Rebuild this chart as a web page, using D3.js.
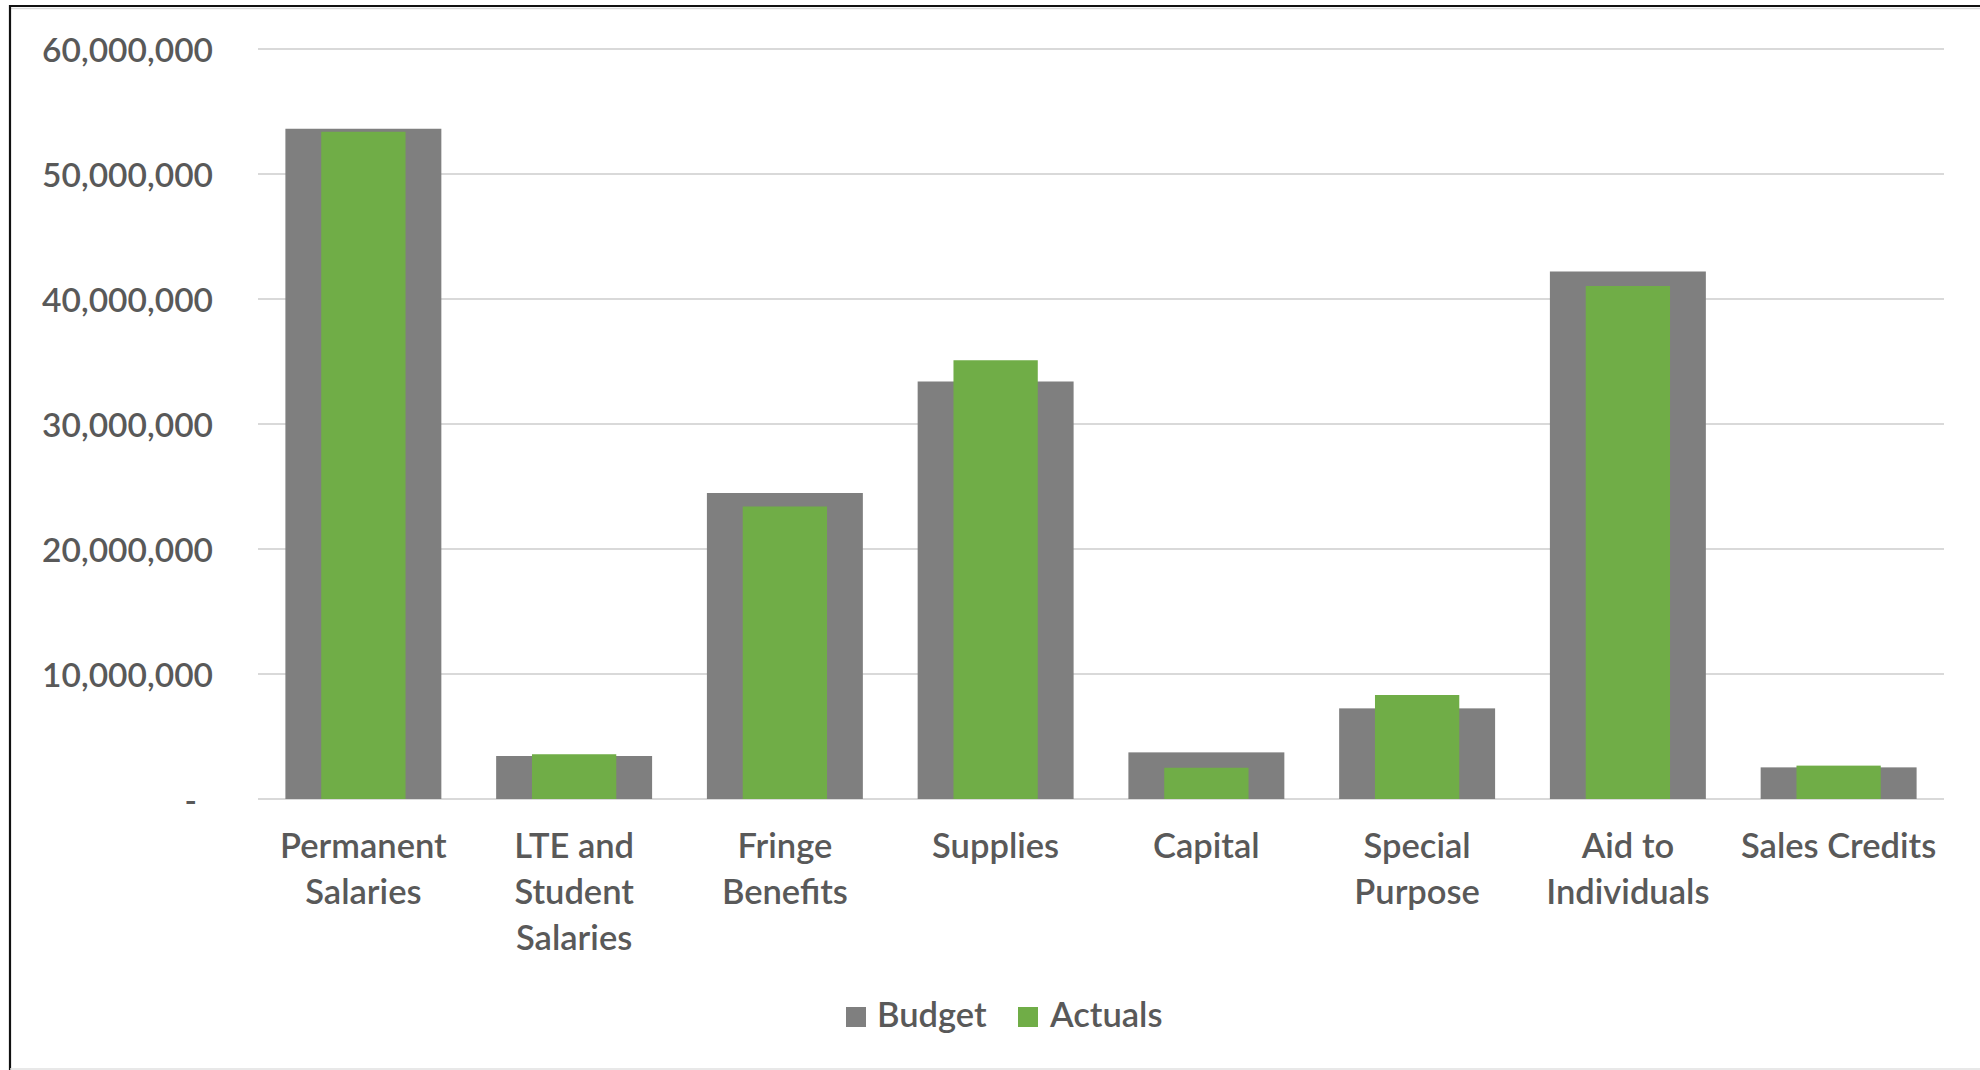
<!DOCTYPE html>
<html>
<head>
<meta charset="utf-8">
<script src="https://cdn.jsdelivr.net/npm/d3@7"></script>
<style>
  html, body { margin: 0; padding: 0; background: #fff; }
  svg { display: block; }
  text { font-family: Lato, "Open Sans", sans-serif; fill: #595959; font-weight: 600; }
</style>
</head>
<body>
<svg id="chart" width="1980" height="1070"></svg>
<script>
// Expense categories (label lines) and series values in dollars
const categories = [
  "Permanent Salaries",
  "LTE and Student Salaries",
  "Fringe Benefits",
  "Supplies",
  "Capital",
  "Special Purpose",
  "Aid to Individuals",
  "Sales Credits"
];
const categoryLines = [
  ["Permanent", "Salaries"],
  ["LTE and", "Student", "Salaries"],
  ["Fringe", "Benefits"],
  ["Supplies"],
  ["Capital"],
  ["Special", "Purpose"],
  ["Aid to", "Individuals"],
  ["Sales Credits"]
];
const budget  = [53620000, 3440000, 24480000, 33400000, 3730000, 7250000, 42200000, 2530000];
const actuals = [53380000, 3580000, 23400000, 35100000, 2500000, 8320000, 41040000, 2670000];
const yTicks  = [0, 10000000, 20000000, 30000000, 40000000, 50000000, 60000000];
const seriesNames = ["Budget", "Actuals"];

const W = 1980, H = 1070;
const plot = { left: 258, right: 1944, top: 49, bottom: 799 };
const colors = { Budget: "#7f7f7f", Actuals: "#70ad47" };
const tickFont = 33.5;
const labelFont = 34.5;

const svg = d3.select("#chart");

// Frame around the chart
svg.append("line").attr("x1", 10).attr("x2", W).attr("y1", 6).attr("y2", 6)
  .attr("stroke", "#111").attr("stroke-width", 2.2);
svg.append("line").attr("x1", 10).attr("x2", W).attr("y1", 8.5).attr("y2", 8.5)
  .attr("stroke", "#d9d9d9").attr("stroke-width", 1.5);
svg.append("line").attr("x1", 10).attr("x2", 10).attr("y1", 5).attr("y2", H)
  .attr("stroke", "#111").attr("stroke-width", 2.2);
svg.append("line").attr("x1", 10).attr("x2", W).attr("y1", H - 1).attr("y2", H - 1)
  .attr("stroke", "#e0e0e0").attr("stroke-width", 1.5);

const x = d3.scaleBand().domain(categories).range([plot.left, plot.right])
  .paddingInner(0).paddingOuter(0);
const y = d3.scaleLinear().domain([0, 60000000]).range([plot.bottom, plot.top]);

// Gridlines
svg.append("g").selectAll("line").data(yTicks).join("line")
  .attr("x1", plot.left).attr("x2", plot.right)
  .attr("y1", d => y(d)).attr("y2", d => y(d))
  .attr("stroke", "#d9d9d9").attr("stroke-width", 2);

// Y axis labels (accounting style: zero shown as a dash)
const fmt = d3.format(",");
const yAxis = d3.axisLeft(y).tickValues(yTicks).tickSize(0).tickPadding(0)
  .tickFormat(d => d === 0 ? "-" : fmt(d));
svg.append("g").attr("transform", "translate(213,0)").call(yAxis)
  .call(g => g.select(".domain").remove())
  .call(g => g.selectAll("text")
    .attr("font-size", tickFont)
    .attr("font-family", null)
    .attr("fill", "#595959")
    .attr("dy", "0.36em")
    .attr("x", d => d === 0 ? -16 : 0));

const bw = x.bandwidth();
const budgetW = bw * 0.74;
const actualW = bw * 0.40;

// Budget bars (wide, behind)
svg.append("g").selectAll("rect").data(categories).join("rect")
  .attr("x", (c) => x(c) + (bw - budgetW) / 2)
  .attr("width", budgetW)
  .attr("y", (c, i) => y(budget[i]))
  .attr("height", (c, i) => y(0) - y(budget[i]))
  .attr("fill", colors.Budget);

// Actuals bars (narrow, in front)
svg.append("g").selectAll("rect").data(categories).join("rect")
  .attr("x", (c) => x(c) + (bw - actualW) / 2)
  .attr("width", actualW)
  .attr("y", (c, i) => y(actuals[i]))
  .attr("height", (c, i) => y(0) - y(actuals[i]))
  .attr("fill", colors.Actuals);

// Category labels
const catG = svg.append("g").selectAll("text").data(categories).join("text")
  .attr("text-anchor", "middle")
  .attr("font-size", labelFont)
  .attr("transform", c => `translate(${x(c) + bw / 2},858)`);
catG.selectAll("tspan").data((c, i) => categoryLines[i]).join("tspan")
  .attr("x", 0).attr("y", (d, j) => j * 46).text(d => d);

// Legend
const legendItems = [
  { name: seriesNames[0], sx: 846, tx: 877 },
  { name: seriesNames[1], sx: 1018, tx: 1050 }
];
const lg = svg.append("g").selectAll("g").data(legendItems).join("g");
lg.append("rect").attr("x", d => d.sx).attr("y", 1007).attr("width", 20).attr("height", 20)
  .attr("fill", d => colors[d.name]);
lg.append("text").attr("x", d => d.tx).attr("y", 1027).attr("font-size", labelFont)
  .text(d => d.name);
</script>
</body>
</html>
